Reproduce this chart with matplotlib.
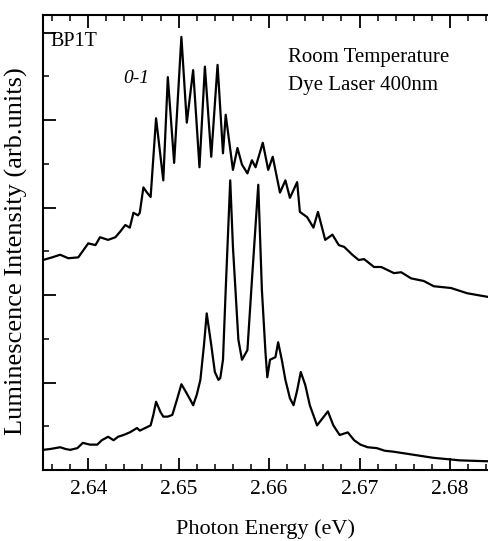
import matplotlib
matplotlib.use("Agg")
import matplotlib.pyplot as plt
from matplotlib.ticker import MultipleLocator

# Espectro superior (0-1, estructura vibrónica fina)
energia_sup = [2.6350, 2.6360, 2.6369, 2.6378, 2.6389, 2.6400, 2.6408, 2.6413, 2.6422,
               2.6430, 2.6435, 2.6441, 2.6446, 2.6450, 2.6455, 2.6457, 2.6461, 2.6465,
               2.6469, 2.6475, 2.6483, 2.6488, 2.6495, 2.6503, 2.6509, 2.6516, 2.6523,
               2.6529, 2.6536, 2.6543, 2.6549, 2.6552, 2.6560, 2.6565, 2.6570, 2.6576,
               2.6581, 2.6585, 2.6593, 2.6599, 2.6604, 2.6612, 2.6618, 2.6623, 2.6631,
               2.6634, 2.6642, 2.6649, 2.6654, 2.6662, 2.6670, 2.6677, 2.6683, 2.6692,
               2.6699, 2.6705, 2.6716, 2.6724, 2.6738, 2.6746, 2.6757, 2.6771, 2.6782,
               2.6801, 2.6819, 2.6841]
intens_sup = [2.40, 2.43, 2.46, 2.42, 2.43, 2.59, 2.57, 2.66, 2.63,
              2.66, 2.72, 2.80, 2.77, 2.94, 2.91, 2.94, 3.23, 3.17,
              3.12, 4.02, 3.31, 4.49, 3.51, 4.95, 3.97, 4.57, 3.46,
              4.61, 3.58, 4.63, 3.62, 4.06, 3.43, 3.68, 3.49, 3.39,
              3.54, 3.46, 3.74, 3.43, 3.58, 3.17, 3.31, 3.11, 3.29,
              2.95, 2.89, 2.77, 2.95, 2.63, 2.69, 2.57, 2.55, 2.46,
              2.40, 2.41, 2.32, 2.32, 2.25, 2.26, 2.19, 2.16, 2.10,
              2.08, 2.02, 1.98]

# Espectro inferior
energia_inf = [2.6350, 2.6358, 2.6369, 2.6375, 2.6380, 2.6388, 2.6394, 2.6402, 2.6410,
               2.6415, 2.6422, 2.6428, 2.6433, 2.6439, 2.6446, 2.6454, 2.6457, 2.6463,
               2.6469, 2.6472, 2.6475, 2.6480, 2.6483, 2.6488, 2.6493, 2.6498, 2.6503,
               2.6507, 2.6513, 2.6516, 2.6520, 2.6524, 2.6528, 2.6531, 2.6536, 2.6540,
               2.6544, 2.6546, 2.6549, 2.6552, 2.6557, 2.6560, 2.6566, 2.6570, 2.6576,
               2.6581, 2.6588, 2.6592, 2.6596, 2.6598, 2.6601, 2.6607, 2.6610, 2.6614,
               2.6618, 2.6623, 2.6627, 2.6631, 2.6635, 2.6640, 2.6645, 2.6653, 2.6659,
               2.6665, 2.6671, 2.6678, 2.6687, 2.6694, 2.6701, 2.6709, 2.6719, 2.6728,
               2.6737, 2.6756, 2.6781, 2.6811, 2.6841]
intens_inf = [0.23, 0.24, 0.26, 0.24, 0.23, 0.25, 0.31, 0.29, 0.29,
              0.34, 0.38, 0.34, 0.38, 0.40, 0.43, 0.48, 0.45, 0.48,
              0.51, 0.63, 0.78, 0.66, 0.61, 0.61, 0.63, 0.80, 0.98,
              0.91, 0.80, 0.74, 0.86, 1.03, 1.43, 1.79, 1.43, 1.12,
              1.03, 1.05, 1.26, 2.06, 3.31, 2.55, 1.49, 1.26, 1.37,
              2.17, 3.26, 2.06, 1.34, 1.06, 1.26, 1.29, 1.46, 1.26,
              1.03, 0.82, 0.74, 0.91, 1.12, 0.97, 0.74, 0.51, 0.59,
              0.67, 0.51, 0.40, 0.43, 0.34, 0.29, 0.26, 0.25, 0.22,
              0.21, 0.18, 0.14, 0.11, 0.10]

xticks = [2.64, 2.65, 2.66, 2.67, 2.68]

plt.rcParams['font.family'] = ['Liberation Serif', 'DejaVu Serif']

fig = plt.figure(figsize=(4.88, 5.41), dpi=100)
ax = fig.add_axes([43/488, 1 - 470/541, 445/488, 455/541])

ax.plot(energia_sup, intens_sup, color='black', lw=1.6)
ax.plot(energia_inf, intens_inf, color='black', lw=1.6)

ax.set_xlim(2.635, 2.6842)
ax.set_ylim(0, 5.2)

ax.set_xticks(xticks)
ax.set_xticklabels([f"{v:.2f}" for v in xticks])
ax.xaxis.set_minor_locator(MultipleLocator(0.002))
ax.yaxis.set_major_locator(MultipleLocator(1))
ax.yaxis.set_minor_locator(MultipleLocator(0.5))
ax.set_yticklabels([])

ax.tick_params(axis='both', which='major', direction='in', length=9, width=1.3,
               top=True, right=False, labelsize=15.5, pad=7)
ax.tick_params(axis='both', which='minor', direction='in', length=4.5, width=1.1,
               top=True, right=False)
ax.spines['right'].set_visible(False)
for s in ('left', 'bottom', 'top'):
    ax.spines[s].set_linewidth(1.5)

ax.set_xlabel('Photon Energy (eV)', fontsize=16, labelpad=15)
ax.set_ylabel('Luminescence Intensity (arb.units)', fontsize=19)
ax.yaxis.set_label_coords(-0.034, 0.48)

ax.text(2.6358, 4.85, 'BP1T', fontsize=14.5)
ax.text(2.6439, 4.42, '0-1', fontsize=14, style='italic')
ax.text(2.6621, 4.66, 'Room Temperature', fontsize=15)
ax.text(2.6621, 4.34, 'Dye Laser 400nm', fontsize=15)

fig.savefig('out.png', dpi=100)
